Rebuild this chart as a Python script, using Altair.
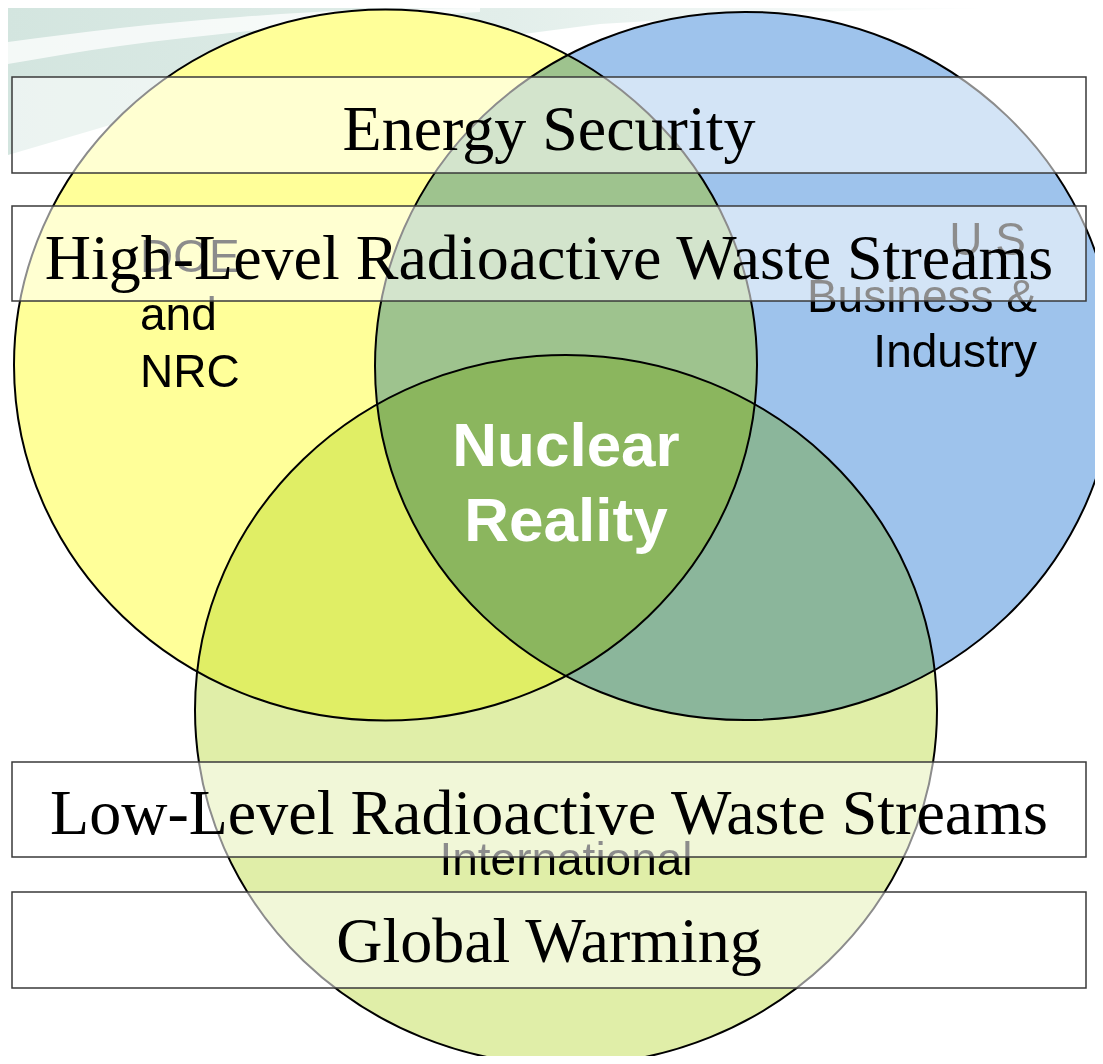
import altair as alt
import pandas as pd

# --- Venn circles (page-pixel layout units) ---
circle_names = ["DOE and NRC", "U.S Business & Industry", "International"]
circle_cx = [385.5, 745.0, 566.0]
circle_cy = [365.0, 366.0, 710.0]
circle_rx = [371.5, 370.0, 371.0]
circle_colors = ["#ffff99", "#9ec3ec", "#e0eea8"]

# --- circle labels ---
label_text = ["DOE", "and", "NRC", "U.S", "Business &", "Industry", "International"]
label_x = [140, 140, 140, 1026, 1037, 1037, 566]
label_y = [272, 330, 387, 255, 312, 367, 875]
label_align = ["left", "left", "left", "right", "right", "right", "center"]

center_text = ["Nuclear", "Reality"]
center_x = [566, 566]
center_y = [466, 541]

# --- overlaid banners ---
banner_text = ["Energy Security", "High-Level Radioactive Waste Streams",
               "Low-Level Radioactive Waste Streams", "Global Warming"]
banner_top = [77, 206, 762, 892]
banner_bottom = [173, 301, 857, 988]
banner_left = [12, 12, 12, 12]
banner_right = [1086, 1086, 1086, 1086]
banner_baseline = [150, 279, 834, 962]

# --- background swoosh (decorative) ---
swoosh_x = [8, 100, 200, 300, 400, 600, 800, 1000]
swoosh_top = [8, 8, 8, 8, 8, 8, 8, 8]
swoosh_bottom = [155, 128, 98, 72, 50, 24, 12, 8]
streak_x = [8, 120, 240, 360, 480]
streak_top = [42, 28, 17, 10, 8]
streak_bottom = [64, 46, 32, 20, 12]

X = alt.Scale(domain=[8, 1095], nice=False, zero=False)
Y = alt.Scale(domain=[8, 1056], nice=False, zero=False, reverse=True)

circles = pd.DataFrame({
    "name": circle_names, "cx": circle_cx, "cy": circle_cy,
    "size": [(2 * r) ** 2 for r in circle_rx], "color": circle_colors,
})
labels = pd.DataFrame({"text": label_text, "x": label_x, "y": label_y, "align": label_align})
centers = pd.DataFrame({"text": center_text, "x": center_x, "y": center_y})
banners = pd.DataFrame({
    "text": banner_text, "top": banner_top, "bottom": banner_bottom,
    "left": banner_left, "right": banner_right, "base": banner_baseline,
    "mid": [(a + b) / 2 for a, b in zip(banner_left, banner_right)],
})
swoosh = pd.DataFrame({"x": swoosh_x, "y": swoosh_top, "y2": swoosh_bottom})
streak = pd.DataFrame({"x": streak_x, "y": streak_top, "y2": streak_bottom})

k = 0.5523
ry = 0.957
ky = k * ry
ellipse = (f"M-1,0C-1,{-ky:.4f},{-k},{-ry},0,{-ry}C{k},{-ry},1,{-ky:.4f},1,0"
           f"C1,{ky:.4f},{k},{ry},0,{ry}C{-k},{ry},-1,{ky:.4f},-1,0Z")

bg = alt.Chart(swoosh).mark_area(
    color=alt.Gradient(
        gradient="linear",
        stops=[alt.GradientStop(color="#d3e5df", offset=0),
               alt.GradientStop(color="#e2eeea", offset=0.5),
               alt.GradientStop(color="#ffffff", offset=1)],
        x1=0, x2=1, y1=0, y2=0),
    clip=True,
).encode(
    x=alt.X("x:Q", scale=X, axis=None),
    y=alt.Y("y:Q", scale=Y, axis=None),
    y2="y2:Q",
)

st = alt.Chart(streak).mark_area(
    color="#ffffff", opacity=0.75, clip=True, interpolate="monotone",
).encode(
    x=alt.X("x:Q", scale=X, axis=None),
    y=alt.Y("y:Q", scale=Y, axis=None),
    y2="y2:Q",
)

base = alt.Chart(circles).mark_point(
    shape=ellipse, filled=True, fill="white", fillOpacity=1, opacity=1,
    strokeWidth=0,
).encode(
    x=alt.X("cx:Q", scale=X, axis=None),
    y=alt.Y("cy:Q", scale=Y, axis=None),
    size=alt.Size("size:Q", scale=None),
)

circ = alt.Chart(circles).mark_point(
    shape=ellipse, filled=True, fillOpacity=1, opacity=1,
    stroke="#000000", strokeWidth=2, strokeOpacity=1, blend="multiply",
).encode(
    x=alt.X("cx:Q", scale=X, axis=None),
    y=alt.Y("cy:Q", scale=Y, axis=None),
    size=alt.Size("size:Q", scale=None),
    fill=alt.Fill("color:N", scale=None),
)

lab_layers = []
for al in ["left", "right", "center"]:
    lab_layers.append(
        alt.Chart(labels[labels["align"] == al]).mark_text(
            font="Liberation Sans", fontSize=46, color="black",
            baseline="alphabetic", align=al,
        ).encode(
            x=alt.X("x:Q", scale=X, axis=None),
            y=alt.Y("y:Q", scale=Y, axis=None),
            text="text:N",
        )
    )

cen = alt.Chart(centers).mark_text(
    font="Liberation Sans", fontSize=62, fontWeight="bold", color="white",
    baseline="alphabetic", align="center",
).encode(
    x=alt.X("x:Q", scale=X, axis=None),
    y=alt.Y("y:Q", scale=Y, axis=None),
    text="text:N",
)

boxes = alt.Chart(banners).mark_rect(
    fill="white", fillOpacity=0.55, stroke="#3a3a3a", strokeWidth=1.5,
).encode(
    x=alt.X("left:Q", scale=X, axis=None),
    x2="right:Q",
    y=alt.Y("top:Q", scale=Y, axis=None),
    y2="bottom:Q",
)

btext = alt.Chart(banners).mark_text(
    font="Liberation Serif", fontSize=64, color="black",
    baseline="alphabetic", align="center",
).encode(
    x=alt.X("mid:Q", scale=X, axis=None),
    y=alt.Y("base:Q", scale=Y, axis=None),
    text="text:N",
)

chart = alt.layer(bg, st, base, circ, *lab_layers, cen, boxes, btext).properties(
    width=1087, height=1048,
    autosize=alt.AutoSizeParams(type="none"),
    padding=0,
    background="white",
).configure_view(strokeWidth=0)

chart.save("out.html", embed_options={"renderer": "svg", "actions": False})
